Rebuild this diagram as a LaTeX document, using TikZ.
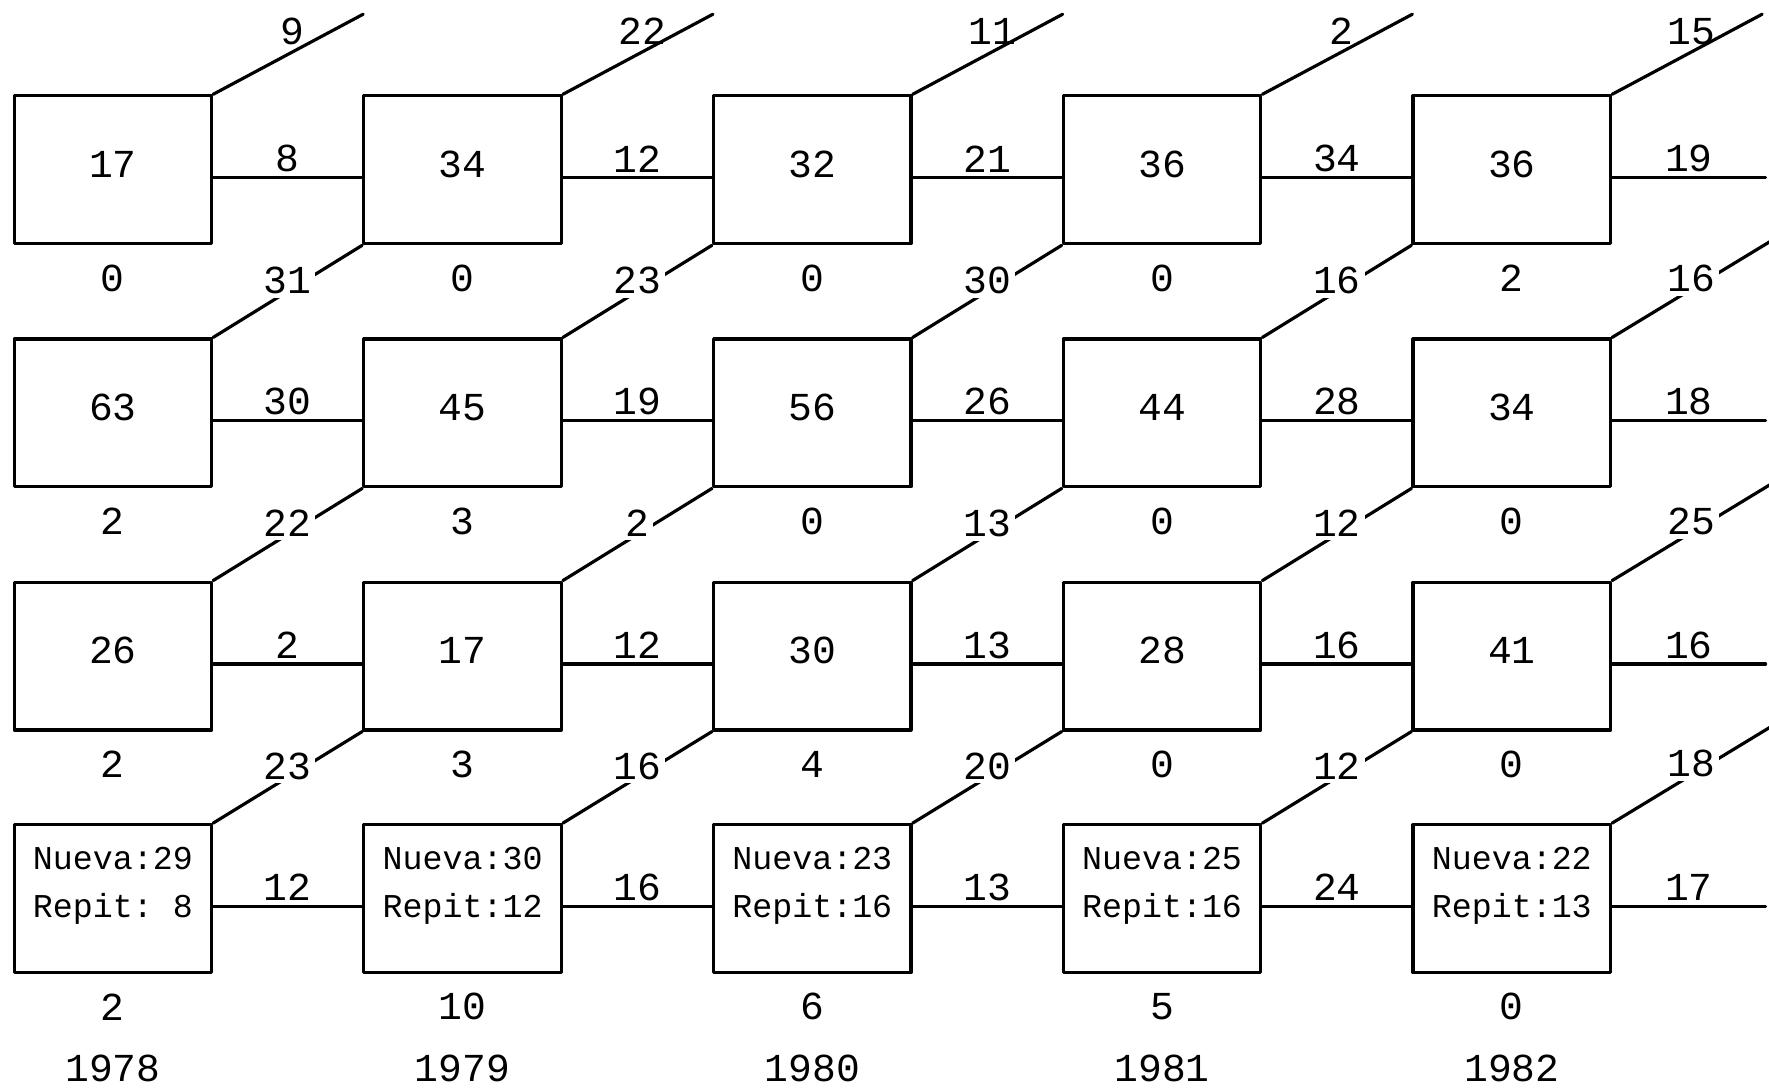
\documentclass[tikz,border=0pt]{standalone}
\usepackage{fontspec}
\setmainfont{Liberation Mono}
\begin{document}
\begin{tikzpicture}[line join=round,line cap=round,line width=0.8pt,font=\fontsize{10}{11}\selectfont,
	caja/.style={draw,minimum width=1.75cm,minimum height=1.31cm,inner sep=0pt},
	flujo/.style={fill=white,inner sep=1pt,yshift=1mm}]
	\useasboundingbox (0,0) rectangle (15.68,-9.635);
	% cajas por fila
	\foreach \c/\v/\s in {1/17/0,2/34/0,3/32/0,4/36/0,5/36/2}
	\node[caja,text depth=1mm] (A\c) at ({3.1*\c-2.1},-1.505) {\v} node at ([yshift=-2.9mm]A\c.south) (sA\c) {\s};
	\foreach \c/\v/\s in {1/63/2,2/45/3,3/56/0,4/44/0,5/34/0}
	\node[caja,text depth=1mm] (B\c) at ({3.1*\c-2.1},-3.66) {\v} node at ([yshift=-2.9mm]B\c.south) (sB\c) {\s};
	\foreach \c/\v/\s in {1/26/2,2/17/3,3/30/4,4/28/0,5/41/0}
	\node[caja,text depth=1mm] (C\c) at ({3.1*\c-2.1},-5.815) {\v} node at ([yshift=-2.9mm]C\c.south) (sC\c) {\s};
	\foreach \c/\n/\r/\s/\a in {1/29/~8/2/1978,2/30/12/10/1979,3/23/16/6/1980,4/25/16/5/1981,5/22/13/0/1982}
	\node[caja,align=center,font=\fontsize{8.4}{12.2}\selectfont] (D\c) at ({3.1*\c-2.1},-7.965) {Nueva:\n\\Repit:\r\\[-0.14cm]\mbox{}}
	node at ([yshift=-2.9mm]D\c.south) (sD\c) {\s}
	node at ([yshift=-8.4mm]D\c.south) (anio\c) {\a};
	% lineas horizontales
	\foreach \f/\h in {A/{8,12,21,34,19},B/{30,19,26,28,18},C/{2,12,13,16,16},D/{12,16,13,24,17}}{
		\foreach \t [count=\c, evaluate=\c as \d using int(\c+1)] in \h {
			\ifnum\c<5
			\draw ([yshift=-0.7mm]\f\c.east) -- node[above,inner sep=1pt]{\t} ([yshift=-0.7mm]\f\d.west);
			\else
			\draw ([yshift=-0.7mm]\f\c.east) -- node[above,inner sep=1pt]{\t} ++(1.36,0) coordinate (fin\f);
			\fi
		}
	}
	% diagonales superiores
	\foreach \c/\t in {1/9,2/22,3/11,4/2,5/15}
	\draw (A\c.north east) -- node[pos=0.53,above,inner sep=0.5mm]{\t} ++(1.33,0.71) coordinate (libre\c);
	% diagonales entre filas
	\foreach \f/\g/\h in {B/A/{31,23,30,16,16},C/B/{22,2,13,12,25},D/C/{23,16,20,12,18}}{
		\foreach \t [count=\c, evaluate=\c as \d using int(\c+1)] in \h {
			\ifnum\c<5
			\draw (\f\c.north east) -- node[flujo]{\t} (\g\d.south west);
			\else
			\draw (\f\c.north east) -- node[flujo]{\t} ++(1.4,0.85) coordinate (diag\f);
			\fi
		}
	}
\end{tikzpicture}
\end{document}
